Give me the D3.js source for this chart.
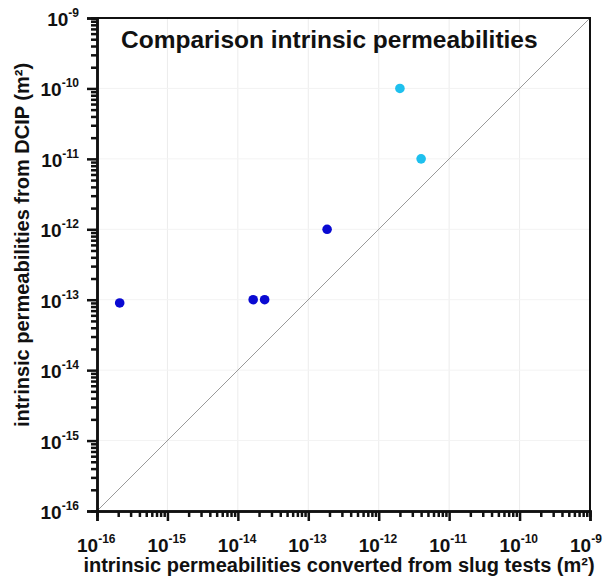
<!DOCTYPE html>
<html><head><meta charset="utf-8">
<script src="https://cdn.jsdelivr.net/npm/d3@7"></script>
<style>body{margin:0;background:#fff;} svg{display:block;font-family:"Liberation Sans",Arial,sans-serif;}</style>
</head><body>
<svg id="c" width="608" height="579"></svg>
<script>
const title = "Comparison intrinsic permeabilities";
const xTitle = "intrinsic permeabilities converted from slug tests (m²)";
const yTitle = "intrinsic permeabilities from DCIP (m²)";
const exponents = [-16, -15, -14, -13, -12, -11, -10, -9];
const groupA_x = [2.1e-16, 1.65e-14, 2.4e-14, 1.85e-13];
const groupA_y = [9e-14, 1e-13, 1e-13, 1e-12];
const groupB_x = [2e-12, 4e-12];
const groupB_y = [1e-10, 1e-11];
const colorA = "#0a0ad2";
const colorB = "#1ec0ee";

const svg = d3.select("#c");
const L = 97, R = 590, T = 18, B = 511;
const x = d3.scaleLog().domain([1e-16, 1e-9]).range([L, R]);
const y = d3.scaleLog().domain([1e-16, 1e-9]).range([B, T]);

const decades = exponents.map(e => Math.pow(10, e));
const minors = [];
exponents.slice(0, -1).forEach(e => { for (let k = 2; k <= 9; k++) minors.push(k * Math.pow(10, e)); });

// grid
svg.append("g").selectAll("line").data(decades.slice(1, -1)).join("line")
  .attr("x1", d => x(d)).attr("x2", d => x(d)).attr("y1", T).attr("y2", B)
  .attr("stroke", "#ececec").attr("stroke-width", 1);
svg.append("g").selectAll("line").data(decades.slice(1, -1)).join("line")
  .attr("y1", d => y(d)).attr("y2", d => y(d)).attr("x1", L).attr("x2", R)
  .attr("stroke", "#f3f3f3").attr("stroke-width", 1);

// diagonal
svg.append("line").attr("x1", x(1e-16)).attr("y1", y(1e-16)).attr("x2", x(1e-9)).attr("y2", y(1e-9))
  .attr("stroke", "#9a9a9a").attr("stroke-width", 1);

// frame top/right
svg.append("path").attr("d", `M${L},${T}H${R}V${B}`).attr("fill", "none").attr("stroke", "#111").attr("stroke-width", 2);

// axes
const xAxisMinor = d3.axisBottom(x).tickValues(minors).tickSize(6).tickFormat("");
const xAxisMajor = d3.axisBottom(x).tickValues(decades).tickSize(10).tickFormat("");
const yAxisMinor = d3.axisLeft(y).tickValues(minors).tickSize(6).tickFormat("");
const yAxisMajor = d3.axisLeft(y).tickValues(decades).tickSize(10).tickFormat("");
function styleAxis(g) {
  g.select(".domain").attr("stroke", "#111").attr("stroke-width", 2.5);
  g.selectAll(".tick line").attr("stroke", "#111").attr("stroke-width", 2.5);
}
svg.append("g").attr("transform", `translate(0,${B})`).call(xAxisMinor).call(styleAxis);
svg.append("g").attr("transform", `translate(0,${B})`).call(xAxisMajor).call(styleAxis);
svg.append("g").attr("transform", `translate(${L},0)`).call(yAxisMinor).call(styleAxis);
svg.append("g").attr("transform", `translate(${L},0)`).call(yAxisMajor).call(styleAxis);

// tick labels
function label(g, e) {
  g.append("tspan").text("10");
  g.append("tspan").attr("dy", -9).attr("font-size", 12).text(String(e));
}
svg.append("g").selectAll("text").data(exponents).join("text")
  .attr("x", e => x(Math.pow(10, e)) - 20).attr("y", 552)
  .attr("font-size", 19).attr("font-weight", "bold").attr("fill", "#111")
  .each(function(e) { label(d3.select(this), e); });
svg.append("g").selectAll("text").data(exponents).join("text")
  .attr("x", 79).attr("y", e => y(Math.pow(10, e)) + 8)
  .attr("text-anchor", "end")
  .attr("font-size", 19).attr("font-weight", "bold").attr("fill", "#111")
  .each(function(e) { label(d3.select(this), e); });

// points
svg.append("g").selectAll("circle").data(groupA_x.map((v, i) => [v, groupA_y[i]])).join("circle")
  .attr("cx", d => x(d[0])).attr("cy", d => y(d[1])).attr("r", 4.8).attr("fill", colorA);
svg.append("g").selectAll("circle").data(groupB_x.map((v, i) => [v, groupB_y[i]])).join("circle")
  .attr("cx", d => x(d[0])).attr("cy", d => y(d[1])).attr("r", 4.8).attr("fill", colorB);

// titles
svg.append("text").attr("x", 121).attr("y", 48).attr("font-size", 24.5).attr("font-weight", "bold").attr("fill", "#111").text(title);
svg.append("text").attr("x", 339).attr("y", 572).attr("text-anchor", "middle").attr("font-size", 20).attr("font-weight", "bold").attr("fill", "#111").text(xTitle);
svg.append("text").attr("transform", "translate(29,245) rotate(-90)").attr("text-anchor", "middle").attr("font-size", 20).attr("font-weight", "bold").attr("fill", "#111").text(yTitle);
</script>
</body></html>
